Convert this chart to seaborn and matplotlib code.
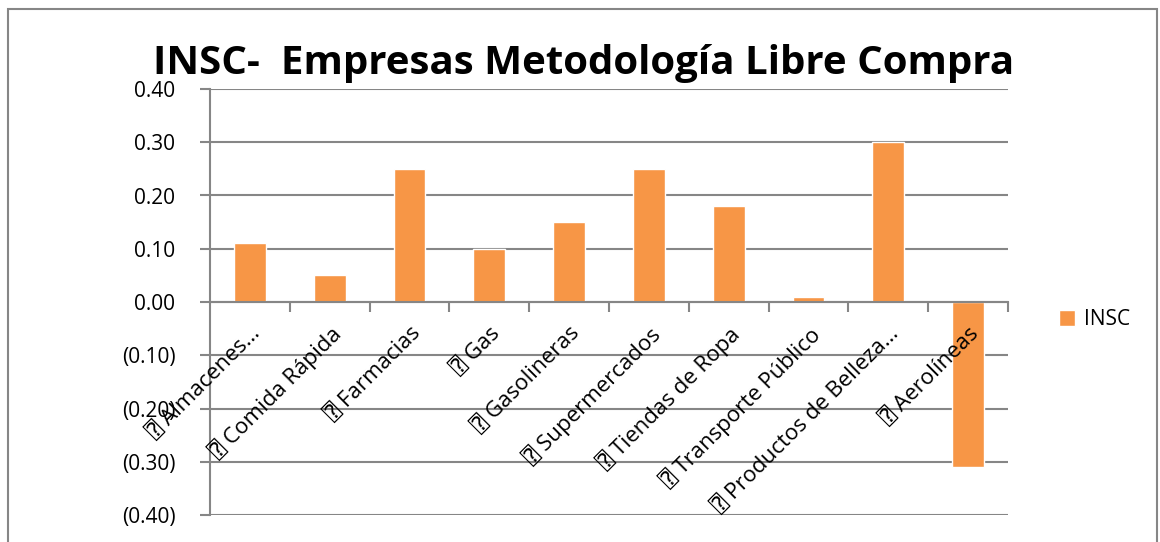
import matplotlib
matplotlib.use("Agg")
import matplotlib.pyplot as plt
from matplotlib.patches import Rectangle
from matplotlib.ticker import FuncFormatter, MultipleLocator
import pandas as pd
import seaborn as sns

categories = ["⍰ Almacenes…", "⍰ Comida Rápida", "⍰ Farmacias", "⍰ Gas",
              "⍰ Gasolineras", "⍰ Supermercados", "⍰ Tiendas de Ropa",
              "⍰ Transporte Público", "⍰ Productos de Belleza…", "⍰ Aerolíneas"]
insc = [0.11, 0.05, 0.25, 0.10, 0.15, 0.25, 0.18, 0.01, 0.30, -0.31]
series_name = "INSC"
title = "INSC-  Empresas Metodología Libre Compra"

df = pd.DataFrame({"categoria": categories, "valor": insc})

sns.set_style("white")
plt.rcParams["font.family"] = ["Open Sans", "DejaVu Sans", "DejaVu Sans Mono",
                               "Noto Sans CJK SC"]
plt.rcParams["text.color"] = "black"

grid_c = "#868686"
bar_c = "#F79646"

fig = plt.figure(figsize=(11.6, 5.42), dpi=100)
ax = fig.add_axes([210 / 1160, 1 - 515 / 542, (1008 - 210) / 1160, (515 - 89) / 542])

sns.barplot(data=df, x="categoria", y="valor", color=bar_c, width=0.4,
            saturation=1, ax=ax, label=series_name)

ax.set_xlim(-0.5, len(categories) - 0.5)
ax.set_ylim(-0.40, 0.40)
ax.yaxis.set_major_locator(MultipleLocator(0.1))
ax.yaxis.set_major_formatter(FuncFormatter(
    lambda v, p: f"({abs(v):.2f})" if v < -1e-9 else f"{abs(v):.2f}"))
ax.grid(axis="y", color=grid_c, linewidth=1.5)
ax.set_axisbelow(True)
ax.xaxis.set_zorder(3)  # category labels drawn over the negative bar
ax.set_xlabel("")
ax.set_ylabel("")

for s in ["top", "right"]:
    ax.spines[s].set_visible(False)
ax.spines["left"].set_color(grid_c)
ax.spines["left"].set_linewidth(1.5)
ax.spines["bottom"].set_position(("data", 0))
ax.spines["bottom"].set_color(grid_c)
ax.spines["bottom"].set_linewidth(1.5)

ax.tick_params(axis="y", left=True, length=7, width=1.5, color=grid_c,
               pad=18, labelsize=15, labelcolor="black")
ax.set_xticks(range(len(categories)))
ax.set_xticklabels(categories, rotation=45, ha="right", rotation_mode="anchor",
                   fontsize=16, color="black")
ax.tick_params(axis="x", which="major", bottom=False, length=0, pad=15)
ax.set_xticks([i + 0.5 for i in range(len(categories))], minor=True)
ax.tick_params(axis="x", which="minor", bottom=True, length=7, width=1.5,
               color=grid_c)

leg = ax.legend(loc="center left", bbox_to_anchor=(1.04, 0.458), frameon=False,
                fontsize=15, handlelength=0.8, handleheight=0.8, handletextpad=0.4)

fig.text(0.503, 1 - 74 / 542, title, ha="center", va="baseline",
         fontsize=29, fontweight="bold", color="black")

fig.patches.append(Rectangle((8 / 1160, -0.05), 1149 / 1160, 1.05 - 9 / 542,
                             transform=fig.transFigure, fill=False,
                             edgecolor=grid_c, linewidth=1.5))

fig.savefig("out.png", dpi=100)
